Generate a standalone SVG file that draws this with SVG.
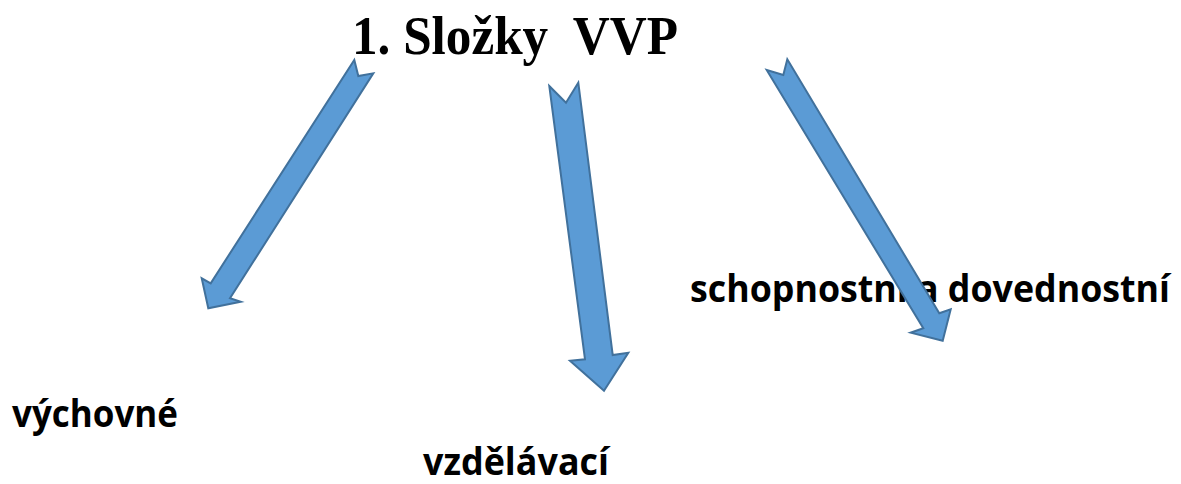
<svg xmlns="http://www.w3.org/2000/svg" width="1181" height="484" viewBox="0 0 1181 484">
<style>
.arrow{fill:#5B9BD5;stroke:#41719C;stroke-width:2;stroke-linejoin:miter}
.lbl{font-family:"Open Sans","Liberation Sans",sans-serif;font-weight:bold;font-size:37px;fill:#000}
.title{font-family:"Liberation Serif","Times New Roman",serif;font-weight:bold;font-size:55px;fill:#000;white-space:pre}
</style>
<rect width="1181" height="484" fill="#fff"/>
<g id="title"><text class="title" x="352" y="54" textLength="326" lengthAdjust="spacingAndGlyphs" xml:space="preserve">1. Složky  VVP</text></g>
<g id="vychovne"><text class="lbl" x="12" y="427" textLength="166" lengthAdjust="spacingAndGlyphs">výchovné</text></g>
<g id="vzdelavaci"><text class="lbl" x="423" y="475" textLength="186" lengthAdjust="spacingAndGlyphs">vzdělávací</text></g>
<g id="schopnostni"><text class="lbl" x="690" y="302" textLength="480" lengthAdjust="spacingAndGlyphs">schopnostní a dovednostní</text></g>
<g id="connectors">
<polygon class="arrow" points="354.3,60 358.3,76 373.3,73.3 230,298.3 240.7,301.7 208.3,308.3 201.7,278.3 210.7,283.3"/>
<polygon class="arrow" points="549.3,86 566,102.7 578.3,82.7 612.7,355 628.3,352.7 604,390.7 570,360.7 585,359.3"/>
<polygon class="arrow" points="766.7,70 783.3,75 787.3,59.3 939.3,313.3 950.7,309.3 942.7,340.7 910.7,332.7 923.3,328.3"/>
</g>
</svg>
